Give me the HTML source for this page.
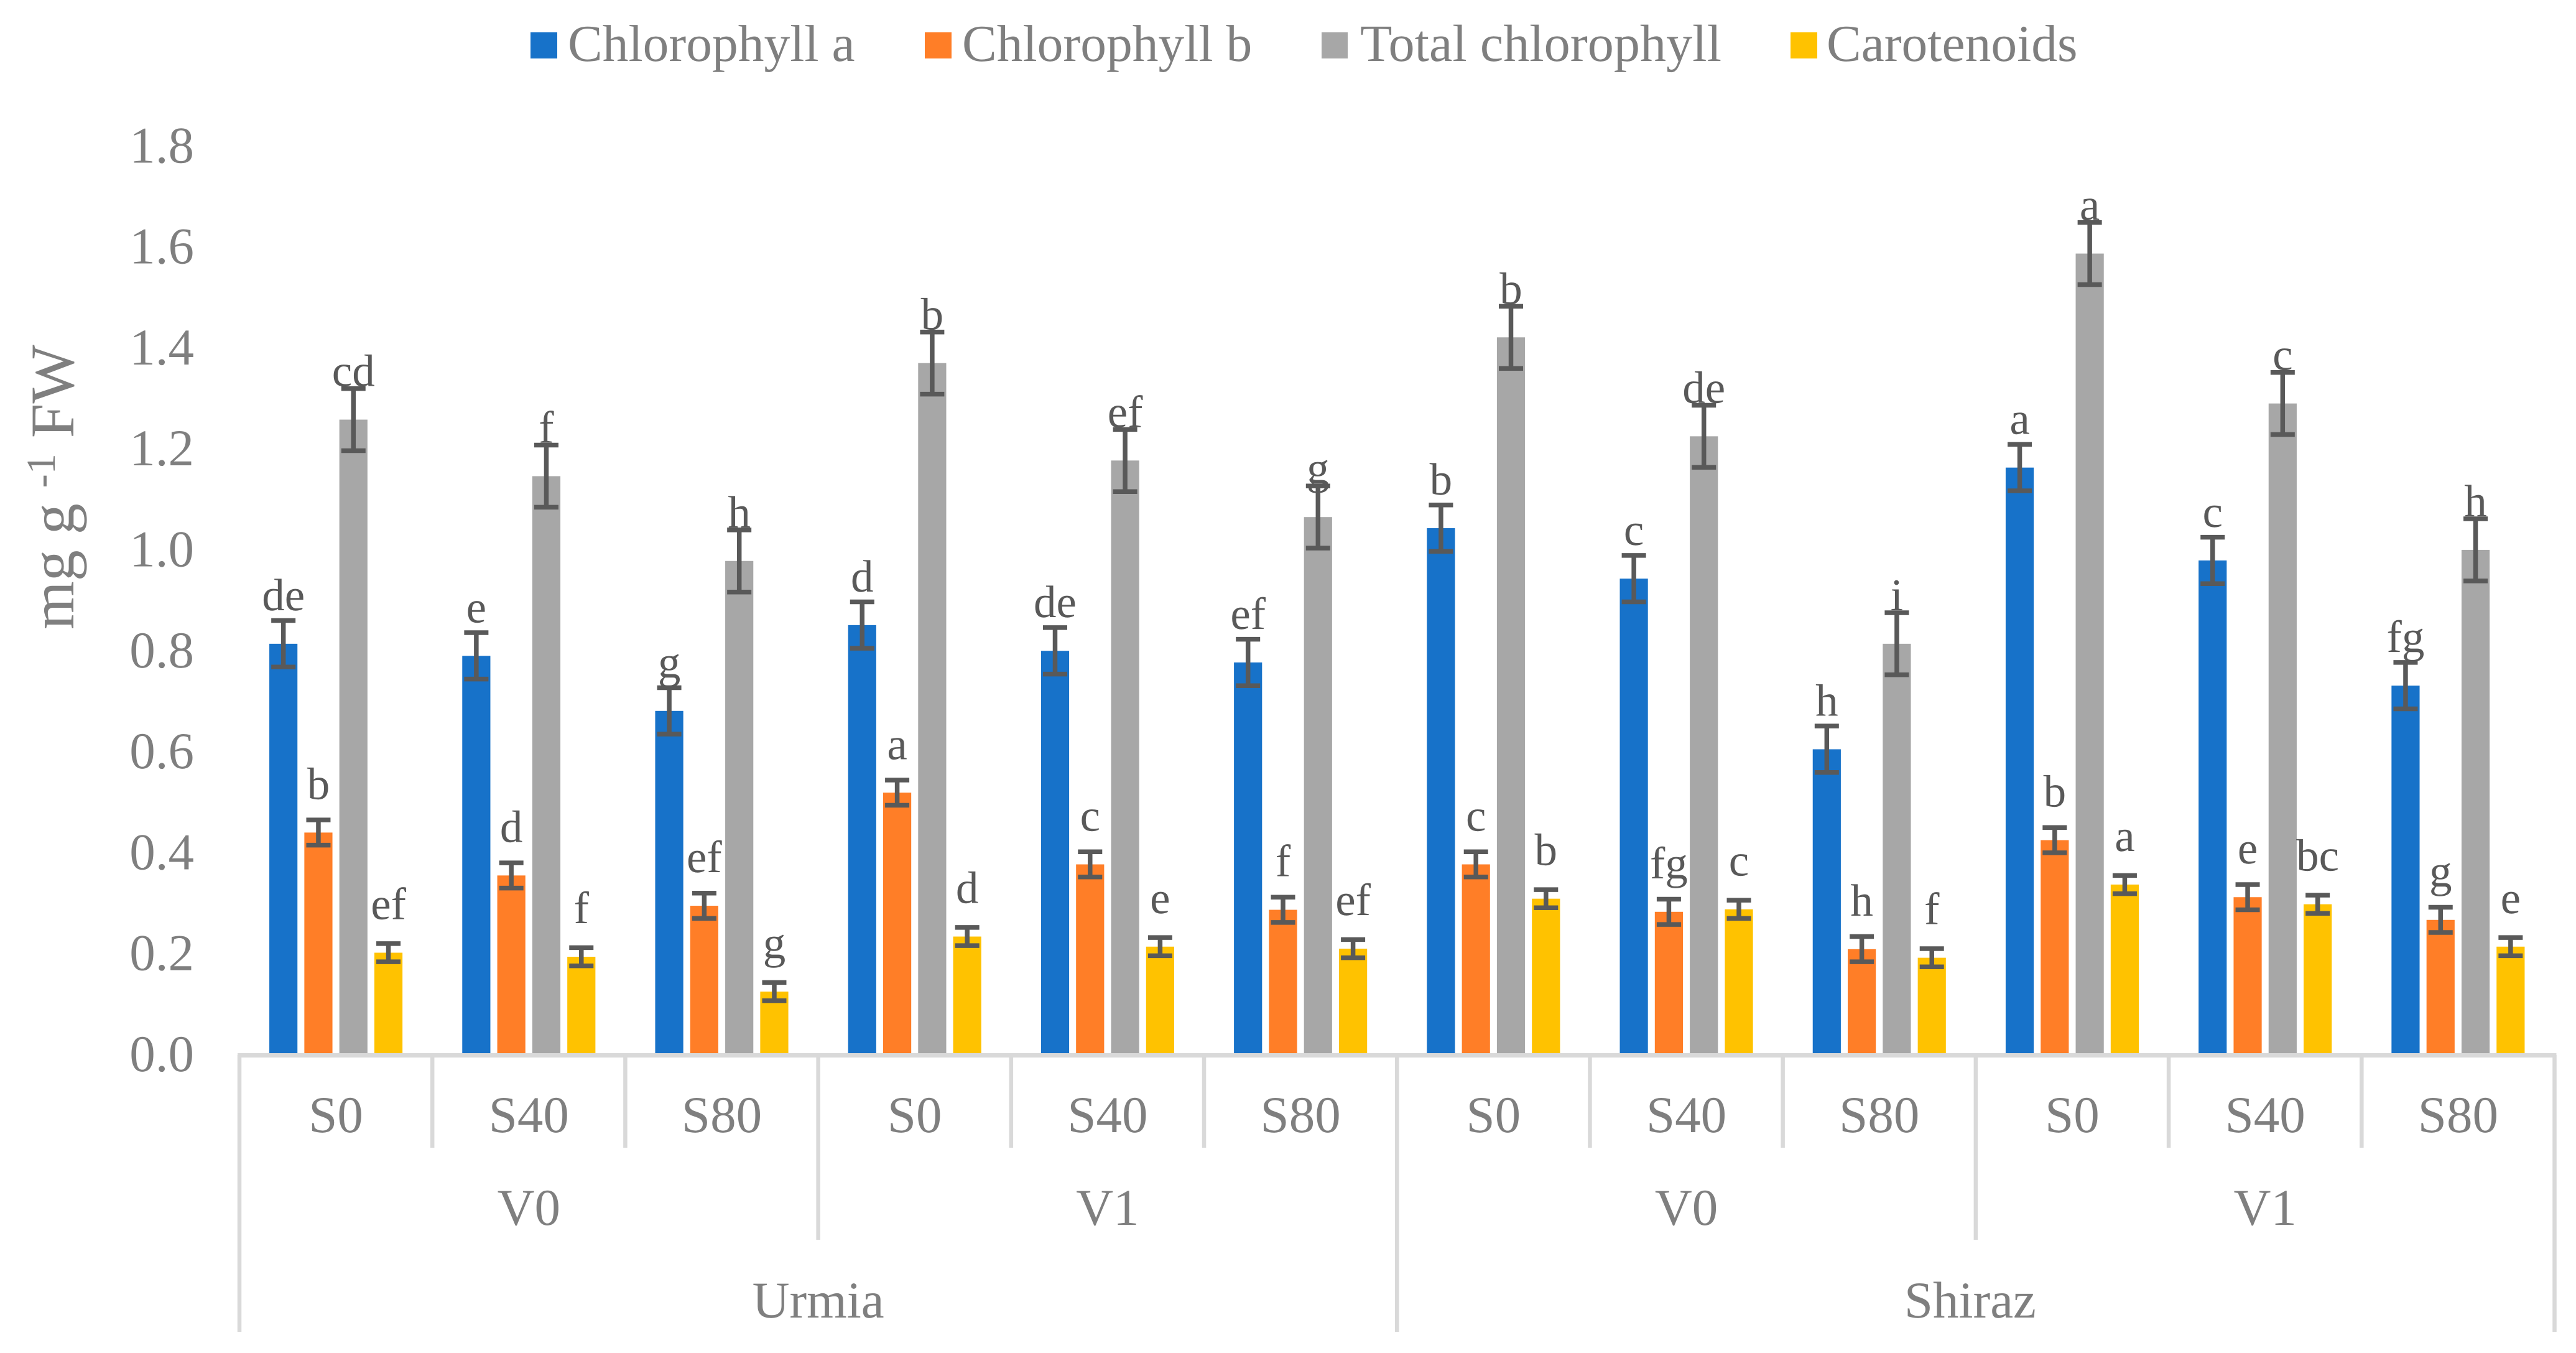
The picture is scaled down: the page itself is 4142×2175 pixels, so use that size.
<!DOCTYPE html>
<html lang="en">
<head>
<meta charset="utf-8">
<title>Chlorophyll and carotenoid content</title>
<style>
html,body{margin:0;padding:0;background:#fff;}
svg{display:block;font-family:"Liberation Serif","Times New Roman",serif;text-rendering:geometricPrecision;}
</style>
</head>
<body>
<svg id="chart" xmlns="http://www.w3.org/2000/svg" width="4142" height="2175" viewBox="0 0 4142 2175">
<rect x="0" y="0" width="4142" height="2175" fill="#ffffff"/>
<g font-size="83.5" fill="#7f7f7f">
<g><rect x="853" y="52" width="43" height="42" fill="#1772c9"/><text x="913" y="98">Chlorophyll a</text></g>
<g><rect x="1487" y="52" width="43" height="42" fill="#ff7e27"/><text x="1547" y="98">Chlorophyll b</text></g>
<g><rect x="2125" y="52" width="42" height="42" fill="#a7a7a7"/><text x="2187" y="98" font-size="84.2">Total chlorophyll</text></g>
<g><rect x="2879" y="52" width="43" height="42" fill="#ffc200"/><text x="2937" y="98">Carotenoids</text></g>
</g>
<text x="118" y="1012" transform="rotate(-90 118 1012)" font-size="100" fill="#7f7f7f">mg g <tspan font-size="66" dy="-30">-1</tspan><tspan dy="30"> FW</tspan></text>
<g id="y-ticks"></g>
<g id="bars"></g>
<g id="errors"></g>
<g id="letters"></g>
<g id="axis"></g>
</svg>
<script>
// ---------- chart data ----------
const salinityLabels = ['S0','S40','S80','S0','S40','S80','S0','S40','S80','S0','S40','S80'];
const varietyLabels = ['V0','V1','V0','V1'];
const locationLabels = ['Urmia','Shiraz'];
const yTickValues = [0,0.2,0.4,0.6,0.8,1.0,1.2,1.4,1.6,1.8];
const yTickLabels = ['0.0','0.2','0.4','0.6','0.8','1.0','1.2','1.4','1.6','1.8'];

const chlorophyllA = [0.811,0.787,0.678,0.848,0.797,0.774,1.040,0.940,0.602,1.160,0.976,0.728];
const chlorophyllB = [0.437,0.352,0.292,0.516,0.374,0.284,0.374,0.280,0.206,0.422,0.309,0.264];
const totalChlorophyll = [1.255,1.143,0.975,1.367,1.174,1.062,1.418,1.222,0.811,1.584,1.287,0.997];
const carotenoids = [0.199,0.191,0.122,0.231,0.211,0.207,0.306,0.285,0.189,0.334,0.295,0.211];

const chlorophyllAErr = [0.046,0.046,0.046,0.046,0.046,0.046,0.046,0.046,0.046,0.046,0.046,0.046];
const chlorophyllBErr = [0.025,0.025,0.025,0.025,0.025,0.025,0.025,0.025,0.025,0.025,0.025,0.025];
const totalChlorophyllErr = [0.0615,0.0615,0.0615,0.0615,0.0615,0.0615,0.0615,0.0615,0.0615,0.0615,0.0615,0.0615];
const carotenoidsErr = [0.018,0.018,0.018,0.018,0.018,0.018,0.018,0.018,0.018,0.018,0.018,0.018];

const chlorophyllALetters = ['de','e','g','d','de','ef','b','c','h','a','c','fg'];
const chlorophyllBLetters = ['b','d','ef','a','c','f','c','fg','h','b','e','g'];
const totalChlorophyllLetters = ['cd','f','h','b','ef','g','b','de','i','a','c','h'];
const carotenoidsLetters = ['ef','f','g','d','e','ef','b','c','f','a','bc','e'];

const seriesNames = ['chlorophyll-a','chlorophyll-b','total-chlorophyll','carotenoids'];
const seriesColors = ['#1772c9','#ff7e27','#a7a7a7','#ffc200'];
const seriesValues = [chlorophyllA,chlorophyllB,totalChlorophyll,carotenoids];
const seriesErrors = [chlorophyllAErr,chlorophyllBErr,totalChlorophyllErr,carotenoidsErr];
const seriesLetters = [chlorophyllALetters,chlorophyllBLetters,totalChlorophyllLetters,carotenoidsLetters];

// ---------- axis functions ----------
const NS = 'http://www.w3.org/2000/svg';
const plotLeft = 385, plotRight = 4107.5, zeroY = 1693, pxPerUnit = 811.5;
const groupWidth = (plotRight - plotLeft) / salinityLabels.length;
const barWidth = 45.2, barPitch = 56.3;
function yScale(v){ return zeroY - v * pxPerUnit; }
function groupX(i){ return plotLeft + i * groupWidth; }
function barCenter(g, s){ return groupX(g) + groupWidth / 2 + (s - 1.5) * barPitch; }
function make(parent, tag, attrs, text){
  const el = document.createElementNS(NS, tag);
  for (const k in attrs) el.setAttribute(k, attrs[k]);
  if (text !== undefined) el.textContent = text;
  parent.appendChild(el);
  return el;
}

const yTickGroup = document.getElementById('y-ticks');
const barGroup = document.getElementById('bars');
const errorGroup = document.getElementById('errors');
const letterGroup = document.getElementById('letters');
const axisGroup = document.getElementById('axis');

// y tick labels
yTickValues.forEach(function(v, i){
  const t = make(yTickGroup, 'text', {x:312, y:yScale(v) + 29, 'text-anchor':'end', 'font-size':83, fill:'#7f7f7f'}, yTickLabels[i]);
  
  
});

// bars, error bars, letters
seriesValues.forEach(function(values, s){
  values.forEach(function(v, g){
    const cx = barCenter(g, s);
    const top = yScale(v);
    const bar = make(barGroup, 'rect', {x:cx - barWidth / 2, y:top, width:barWidth, height:zeroY - top, fill:seriesColors[s]});
    
    

    const e = seriesErrors[s][g];
    const hi = yScale(v + e), lo = yScale(v - e);
    const err = make(errorGroup, 'path', {d:'M' + (cx - 19.5) + ' ' + hi + 'H' + (cx + 19.5) + 'M' + cx + ' ' + hi + 'V' + lo + 'M' + (cx - 19.5) + ' ' + lo + 'H' + (cx + 19.5), fill:'none', stroke:'#595959', 'stroke-width':7.5});
    
    

    const letter = make(letterGroup, 'text', {x:cx, y:top - 54, 'text-anchor':'middle', 'font-size':73, fill:'#595959'}, seriesLetters[s][g]);
    
    
  });
});

// category axis
const axisLine = make(axisGroup, 'line', {x1:plotLeft - 3, x2:plotRight + 3, y1:zeroY + 3.5, y2:zeroY + 3.5, stroke:'#d9d9d9', 'stroke-width':7});



for (let i = 0; i <= salinityLabels.length; i++) {
  const yEnd = i % 6 === 0 ? 2141 : (i % 3 === 0 ? 1993 : 1845);
  const tick = make(axisGroup, 'line', {x1:groupX(i), x2:groupX(i), y1:zeroY + 3, y2:yEnd, stroke:'#d9d9d9', 'stroke-width':6.5});
  
  
}

salinityLabels.forEach(function(label, i){
  const t = make(axisGroup, 'text', {x:groupX(i) + groupWidth / 2, y:1820, 'text-anchor':'middle', 'font-size':83, fill:'#7f7f7f'}, label);
  
  
});
varietyLabels.forEach(function(label, i){
  const t = make(axisGroup, 'text', {x:groupX(i * 3) + groupWidth * 1.5, y:1969, 'text-anchor':'middle', 'font-size':83, fill:'#7f7f7f'}, label);
  
  
});
locationLabels.forEach(function(label, i){
  const nudge = i === 1 ? -9 : 0;
  const t = make(axisGroup, 'text', {x:groupX(i * 6) + groupWidth * 3 + nudge, y:2118, 'text-anchor':'middle', 'font-size':83, fill:'#7f7f7f'}, label);
  
  
});
</script>
</body>
</html>
